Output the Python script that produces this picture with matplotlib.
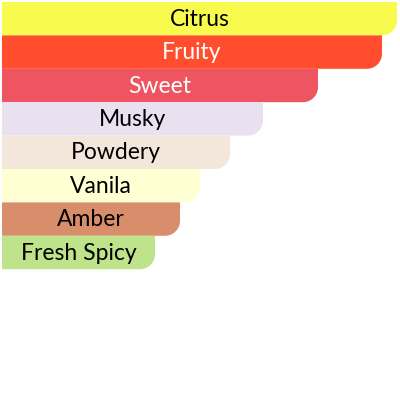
import matplotlib
matplotlib.use("Agg")
import matplotlib.pyplot as plt
from matplotlib.path import Path
from matplotlib.patches import PathPatch

# notes (top to bottom) and bar lengths
notes = ["Citrus", "Fruity", "Sweet", "Musky", "Powdery", "Vanila", "Amber", "Fresh Spicy"]
values = [395, 380, 316, 261, 228, 198, 178, 153]
colors = ["#F8FB4E", "#FF4D2E", "#EF5560", "#E9E1F0", "#F3E6DA", "#FFFFD4", "#D98E6B", "#BEE38B"]
text_colors = ["black", "white", "white", "black", "black", "black", "black", "black"]

row_px = 33.4   # height of one row in pixels
radius_px = 15  # round bottom-right corner
k = 0.5523      # bezier circle factor

fig = plt.figure(figsize=(4, 4), dpi=100)
ax = fig.add_axes([0, 0, 1, 1])
ax.set_xlim(-2, 398)
top = -0.5 - 2 / row_px
ax.set_ylim(top + 400 / row_px, top)
ax.axis("off")

bars = ax.barh(range(len(notes)), values, height=1.0, color="none")

rx = radius_px
ry = radius_px / row_px
for bar, col, tc, name in zip(bars, colors, text_colors, notes):
    x0 = bar.get_x()
    x1 = x0 + bar.get_width()
    y0 = bar.get_y()
    y1 = y0 + bar.get_height()
    verts = [(x0, y0), (x1, y0), (x1, y1 - ry),
             (x1, y1 - ry + k * ry), (x1 - rx + k * rx, y1), (x1 - rx, y1),
             (x0, y1), (x0, y0)]
    codes = [Path.MOVETO, Path.LINETO, Path.LINETO,
             Path.CURVE4, Path.CURVE4, Path.CURVE4,
             Path.LINETO, Path.CLOSEPOLY]
    ax.add_patch(PathPatch(Path(verts, codes), facecolor=col, edgecolor="none"))
    ax.text((x0 + x1) / 2, (y0 + y1) / 2 + 0.02, name, ha="center", va="center",
            color=tc, fontsize=16.5, family=["Lato", "DejaVu Sans"])

fig.savefig("out.png", dpi=100)
